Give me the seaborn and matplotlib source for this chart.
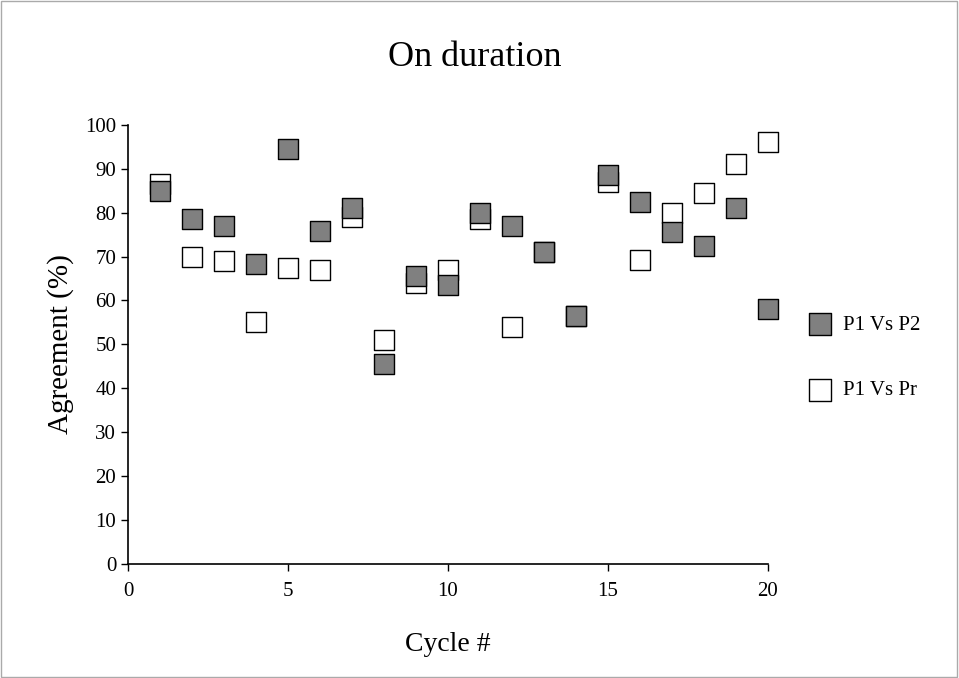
import matplotlib
matplotlib.use("Agg")
import matplotlib.pyplot as plt
import seaborn as sns
import pandas as pd

cycles = list(range(1, 21))
p1_vs_p2 = [85, 78.5, 77, 68.3, 94.5, 75.8, 81, 45.5, 65.5, 63.5,
            80, 77, 71, 56.5, 88.5, 82.5, 75.5, 72.5, 81, 58]
p1_vs_pr = [86.5, 70, 69, 55, 67.5, 67, 79, 51, 64, 67,
            78.5, 54, 71, 56.5, 87, 69.3, 80, 84.5, 91, 96]

df = pd.DataFrame({"Cycle": cycles * 2,
                   "Agreement": p1_vs_p2 + p1_vs_pr,
                   "Series": ["P1 Vs P2"] * 20 + ["P1 Vs Pr"] * 20})

sns.set_style("white")
plt.rcParams['font.family'] = ['Liberation Serif', 'DejaVu Serif']
plt.rcParams['text.color'] = 'black'
plt.rcParams['axes.labelcolor'] = 'black'
plt.rcParams['xtick.color'] = 'black'
plt.rcParams['ytick.color'] = 'black'

fig = plt.figure(figsize=(9.59, 6.78), dpi=100)
fig.patches.append(plt.Rectangle((0.001, 0.001), 0.997, 0.997, transform=fig.transFigure,
                                 fill=False, edgecolor="#aaaaaa", linewidth=1))
ax = fig.add_axes([0.1335, 0.168, 0.667, 0.648])

colors = {"P1 Vs P2": "#808080", "P1 Vs Pr": "white"}
for name, z in [("P1 Vs Pr", 3), ("P1 Vs P2", 4)]:
    sns.scatterplot(data=df[df.Series == name], x="Cycle", y="Agreement",
                    marker="s", color=colors[name], label=name,
                    edgecolor="black", linewidth=1, s=190, ax=ax, clip_on=False, zorder=z)

ax.set_xlim(0, 20)
ax.set_ylim(0, 100)
ax.set_xticks(range(0, 21, 5))
ax.set_yticks(range(0, 101, 10))
for s in ["top", "right"]:
    ax.spines[s].set_visible(False)
for s in ["left", "bottom"]:
    ax.spines[s].set_color("black")
    ax.spines[s].set_linewidth(1.2)
ax.tick_params(axis="both", direction="out", length=5, width=1, color="black",
               labelsize=15, bottom=True, left=True)
ax.tick_params(axis="x", pad=8)
ax.set_xlabel("Cycle #", fontsize=20, labelpad=22)
ax.set_ylabel("Agreement (%)", fontsize=21, labelpad=8)
fig.text(0.495, 0.915, "On duration", fontsize=26, ha="center", va="center")

handles, labels = ax.get_legend_handles_labels()
order = [labels.index("P1 Vs P2"), labels.index("P1 Vs Pr")]
ax.legend([handles[i] for i in order], [labels[i] for i in order],
          loc="center left", bbox_to_anchor=(1.02, 0.47), frameon=False,
          fontsize=15, labelspacing=2.2, handletextpad=0.1, markerscale=1.1)

fig.savefig("out.png", dpi=100)
